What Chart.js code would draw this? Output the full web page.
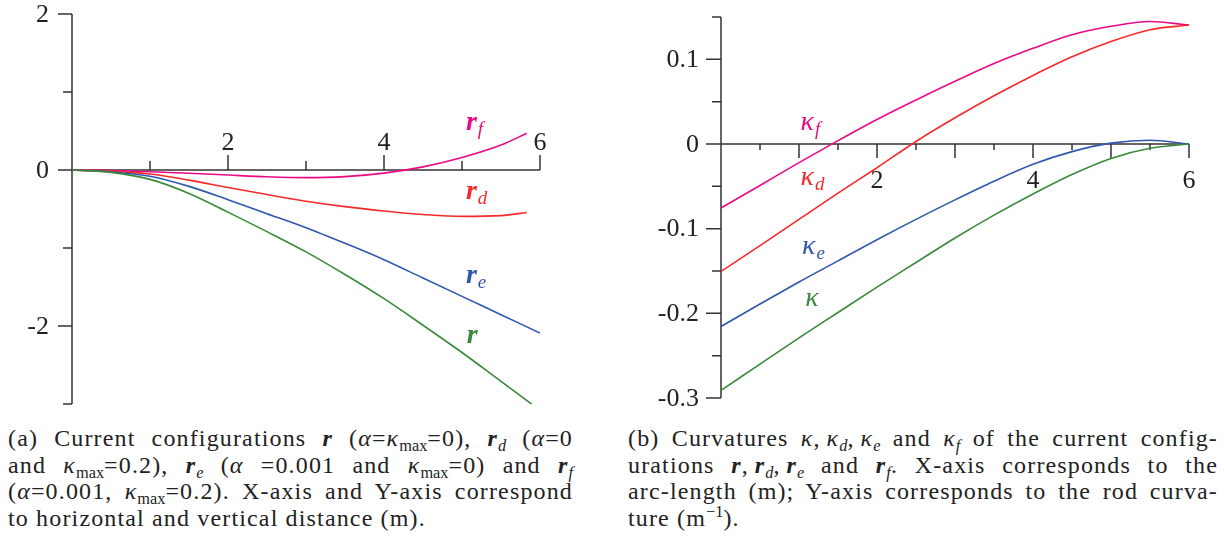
<!DOCTYPE html>
<html>
<head>
<meta charset="utf-8">
<script src="https://cdn.jsdelivr.net/npm/chart.js@4.4.1/dist/chart.umd.min.js"></script>
<style>
  body { margin: 0; background: #fff; }
  #page { position: relative; width: 1225px; height: 544px; overflow: hidden; background: #fff; }
  canvas { position: absolute; top: 0; }
  #configChart { left: 0; }
  #curvChart { left: 620px; }
  .caption {
    position: absolute; top: 425px;
    font-family: "Liberation Serif", serif;
    font-size: 24px; letter-spacing: 1.15px; line-height: 26.5px; color: #222;
  }
  .caption div { text-align: justify; text-align-last: justify; white-space: nowrap; }
  .caption div.last { text-align-last: left; }
  .caption sub, .caption sup { font-size: 0.68em; line-height: 0; letter-spacing: 0; }
  .caption sub { vertical-align: -0.28em; }
  .caption sup { vertical-align: 0.55em; }
  #capA { left: 8px; width: 565px; }
  #capB { left: 628px; width: 590px; }
</style>
</head>
<body>
<div id="page">
  <canvas id="configChart" width="600" height="420"></canvas>
  <canvas id="curvChart" width="605" height="420"></canvas>

  <div class="caption" id="capA">
    <div>(a) Current configurations <b><i>r</i></b> (<i>α</i>=<i>κ</i><sub>max</sub>=0), <b><i>r</i></b><sub><i>d</i></sub> (<i>α</i>=0</div>
    <div>and <i>κ</i><sub>max</sub>=0.2), <b><i>r</i></b><sub><i>e</i></sub> (<i>α</i> =0.001 and <i>κ</i><sub>max</sub>=0) and <b><i>r</i></b><sub><i>f</i></sub></div>
    <div>(<i>α</i>=0.001, <i>κ</i><sub>max</sub>=0.2). X-axis and Y-axis correspond</div>
    <div class="last">to horizontal and vertical distance (m).</div>
  </div>

  <div class="caption" id="capB">
    <div>(b) Curvatures <i>κ</i>,&#8201;<i>κ</i><sub><i>d</i></sub>,&#8201;<i>κ</i><sub><i>e</i></sub> and <i>κ</i><sub><i>f</i></sub> of the current config-</div>
    <div>urations <b><i>r</i></b>,&#8201;<b><i>r</i></b><sub><i>d</i></sub>,&#8201;<b><i>r</i></b><sub><i>e</i></sub> and <b><i>r</i></b><sub><i>f</i></sub>. X-axis corresponds to the</div>
    <div>arc-length (m); Y-axis corresponds to the rod curva-</div>
    <div class="last">ture (m<sup>−1</sup>).</div>
  </div>
</div>

<script>
// Current configurations: horizontal (x) and vertical (y) distance, metres
const rX  = [0, 0.5, 1, 1.5, 2, 2.5, 3, 3.5, 4, 4.5, 5, 5.5, 6];
const rY  = [0, -0.03, -0.12, -0.30, -0.54, -0.79, -1.05, -1.34, -1.65, -1.99, -2.34, -2.71, -3.08];
const rEX = [0, 0.5, 1, 1.5, 2, 2.5, 3, 3.5, 4, 4.5, 5, 5.5, 6];
const rEY = [0, -0.025, -0.08, -0.21, -0.38, -0.56, -0.74, -0.94, -1.15, -1.385, -1.62, -1.855, -2.09];
const rDX = [0, 0.5, 1, 1.5, 2, 2.5, 3, 3.5, 4, 4.5, 5, 5.5, 5.83];
const rDY = [0, -0.015, -0.052, -0.13, -0.225, -0.315, -0.40, -0.47, -0.525, -0.57, -0.595, -0.585, -0.545];
const rFX = [0, 0.5, 1, 1.5, 2, 2.5, 3, 3.5, 4, 4.5, 5, 5.5, 5.83];
const rFY = [0, -0.006, -0.022, -0.042, -0.065, -0.087, -0.098, -0.085, -0.04, 0.04, 0.16, 0.32, 0.47];

// Curvature along the arc length, 1/m
const arcS   = [0, 0.5, 1, 1.5, 2, 2.5, 3, 3.5, 4, 4.5, 5, 5.5, 6];
const kappa  = [-0.291, -0.260, -0.229, -0.199, -0.169, -0.140, -0.111, -0.084, -0.059, -0.036, -0.017, -0.005, 0];
const kappaE = [-0.2155, -0.189, -0.163, -0.138, -0.113, -0.089, -0.066, -0.044, -0.024, -0.009, 0.001, 0.0045, 0];
const kappaD = [-0.1505, -0.120, -0.089, -0.058, -0.028, 0.003, 0.031, 0.057, 0.081, 0.103, 0.121, 0.135, 0.1405];
const kappaF = [-0.0756, -0.049, -0.022, 0.004, 0.029, 0.052, 0.074, 0.095, 0.113, 0.129, 0.139, 0.1447, 0.1405];

// Axis ticks and their labels
const configXTicks = [1, 2, 3, 4, 5, 6];
const configYTicks = [2, 1, 0, -1, -2, -3];
const configXLabelAt = [2, 4, 6];
const configXLabels = ['2', '4', '6'];
const configYLabelAt = [2, 0, -2];
const configYLabels = ['2', '0', '-2'];

const curvXTicks = [0.5, 1, 1.5, 2, 2.5, 3, 3.5, 4, 4.5, 5, 5.5, 6];
const curvYTicks = [0.15, 0.1, 0.05, 0, -0.05, -0.1, -0.15, -0.2, -0.25, -0.3];
const curvXLabelAt = [2, 4, 6];
const curvXLabels = ['2', '4', '6'];
const curvYLabelAt = [0.1, 0, -0.1, -0.2, -0.3];
const curvYLabels = ['0.1', '0', '-0.1', '-0.2', '-0.3'];

const COLORS = {
    r: '#3b8a3b',
    e: '#3057b0',
    d: '#f42a2a',
    f: '#ea0a87'
};
const AXIS_COLOR = '#333';
const TEXT_COLOR = '#222';
const SERIF = '"Liberation Serif", serif';

function toPoints(xs, ys) {
    return xs.map((x, i) => ({ x: x, y: ys[i] }));
}

function curve(xs, ys, color) {
    return {
        data: toPoints(xs, ys),
        borderColor: color,
        borderWidth: 1.6,
        pointRadius: 0,
        fill: false,
        cubicInterpolationMode: 'monotone'
    };
}

function isMajor(v, step) {
    const q = v / step;
    return Math.abs(q - Math.round(q)) < 1e-6;
}

// Axes crossing at the origin, with long ticks on the major steps
const crossAxes = {
    id: 'crossAxes',
    beforeDatasetsDraw(chart, args, opts) {
        const ctx = chart.ctx;
        const xs = chart.scales.x, ys = chart.scales.y;
        const x0 = xs.getPixelForValue(0), y0 = ys.getPixelForValue(0);

        ctx.save();
        ctx.strokeStyle = AXIS_COLOR;
        ctx.lineWidth = 1.5;
        ctx.beginPath();
        ctx.moveTo(x0, ys.getPixelForValue(ys.max));
        ctx.lineTo(x0, ys.getPixelForValue(ys.min));
        ctx.moveTo(x0, y0);
        ctx.lineTo(xs.getPixelForValue(xs.max), y0);

        opts.xTicks.forEach(v => {
            const px = xs.getPixelForValue(v);
            const len = isMajor(v, opts.xMajor) ? opts.xLong : opts.xShort;
            ctx.moveTo(px, y0);
            ctx.lineTo(px, y0 + opts.xDir * len);
        });
        opts.yTicks.forEach(v => {
            const py = ys.getPixelForValue(v);
            const len = isMajor(v, opts.yMajor) ? opts.yLong : opts.yShort;
            ctx.moveTo(x0, py);
            ctx.lineTo(x0 - len, py);
        });
        ctx.stroke();

        ctx.fillStyle = TEXT_COLOR;
        ctx.font = opts.tickFont;
        ctx.textAlign = 'center';
        ctx.textBaseline = 'alphabetic';
        opts.xLabelAt.forEach((v, i) => {
            ctx.fillText(opts.xLabels[i], xs.getPixelForValue(v), y0 + opts.xLabelShift);
        });
        ctx.textAlign = 'right';
        ctx.textBaseline = 'middle';
        opts.yLabelAt.forEach((v, i) => {
            ctx.fillText(opts.yLabels[i], x0 - opts.yLabelGap, ys.getPixelForValue(v) + 1);
        });
        ctx.restore();
    },
    afterDatasetsDraw(chart, args, opts) {
        const ctx = chart.ctx;
        const xs = chart.scales.x, ys = chart.scales.y;
        ctx.save();
        ctx.textAlign = 'left';
        ctx.textBaseline = 'alphabetic';
        opts.curveLabels.forEach(l => {
            const px = xs.getPixelForValue(l.x);
            const py = ys.getPixelForValue(l.y);
            ctx.fillStyle = l.color;
            ctx.font = opts.labelFont;
            ctx.fillText(l.text, px, py);
            const w = ctx.measureText(l.text).width;
            if (l.sub) {
                ctx.font = opts.subFont;
                ctx.fillText(l.sub, px + w + 1, py + 5);
            }
        });
        ctx.restore();
    }
};

function makeChart(id, datasets, scales, padding, axes) {
    return new Chart(document.getElementById(id), {
        type: 'line',
        data: { datasets: datasets },
        options: {
            responsive: false,
            animation: false,
            events: [],
            layout: { padding: padding },
            scales: {
                x: Object.assign({ type: 'linear', display: false }, scales.x),
                y: Object.assign({ type: 'linear', display: false }, scales.y)
            },
            plugins: {
                legend: { display: false },
                tooltip: { enabled: false },
                crossAxes: axes
            }
        },
        plugins: [crossAxes]
    });
}

function drawCharts() {
    makeChart('configChart', [
        curve(rX, rY, COLORS.r),
        curve(rEX, rEY, COLORS.e),
        curve(rDX, rDY, COLORS.d),
        curve(rFX, rFY, COLORS.f)
    ], {
        x: { min: 0, max: 6 },
        y: { min: -3, max: 2 }
    }, { left: 72, right: 60, top: 14, bottom: 16 }, {
        xTicks: configXTicks, xMajor: 2, xLong: 15, xShort: 9, xDir: -1,
        yTicks: configYTicks, yMajor: 2, yLong: 14, yShort: 9,
        xLabelAt: configXLabelAt, xLabels: configXLabels, xLabelShift: -20,
        yLabelAt: configYLabelAt, yLabels: configYLabels, yLabelGap: 23,
        tickFont: '26px ' + SERIF,
        labelFont: 'bold italic 28px ' + SERIF,
        subFont: 'italic 19px ' + SERIF,
        curveLabels: [
            { text: 'r', sub: 'f', x: 5.05, y: 0.513, color: COLORS.f },
            { text: 'r', sub: 'd', x: 5.05, y: -0.372, color: COLORS.d },
            { text: 'r', sub: 'e', x: 5.05, y: -1.445, color: COLORS.e },
            { text: 'r', sub: '', x: 5.06, y: -2.214, color: COLORS.r }
        ]
    });

    makeChart('curvChart', [
        curve(arcS, kappa, COLORS.r),
        curve(arcS, kappaE, COLORS.e),
        curve(arcS, kappaD, COLORS.d),
        curve(arcS, kappaF, COLORS.f)
    ], {
        x: { min: 0, max: 6 },
        y: { min: -0.3, max: 0.15 }
    }, { left: 101, right: 36, top: 17, bottom: 22 }, {
        xTicks: curvXTicks, xMajor: 1, xLong: 14, xShort: 6, xDir: 1,
        yTicks: curvYTicks, yMajor: 0.1, yLong: 15, yShort: 9,
        xLabelAt: curvXLabelAt, xLabels: curvXLabels, xLabelShift: 44,
        yLabelAt: curvYLabelAt, yLabels: curvYLabels, yLabelGap: 22,
        tickFont: '26px ' + SERIF,
        labelFont: 'italic 28px ' + SERIF,
        subFont: 'italic 19px ' + SERIF,
        curveLabels: [
            { text: 'κ', sub: 'f', x: 1.02, y: 0.017, color: COLORS.f },
            { text: 'κ', sub: 'd', x: 1.02, y: -0.048, color: COLORS.d },
            { text: 'κ', sub: 'e', x: 1.04, y: -0.1296, color: COLORS.e },
            { text: 'κ', sub: '', x: 1.08, y: -0.191, color: COLORS.r }
        ]
    });
}

// wait for the serif face before drawing text on the canvases
document.fonts.load('26px ' + SERIF).then(drawCharts, drawCharts);
</script>
</body>
</html>
